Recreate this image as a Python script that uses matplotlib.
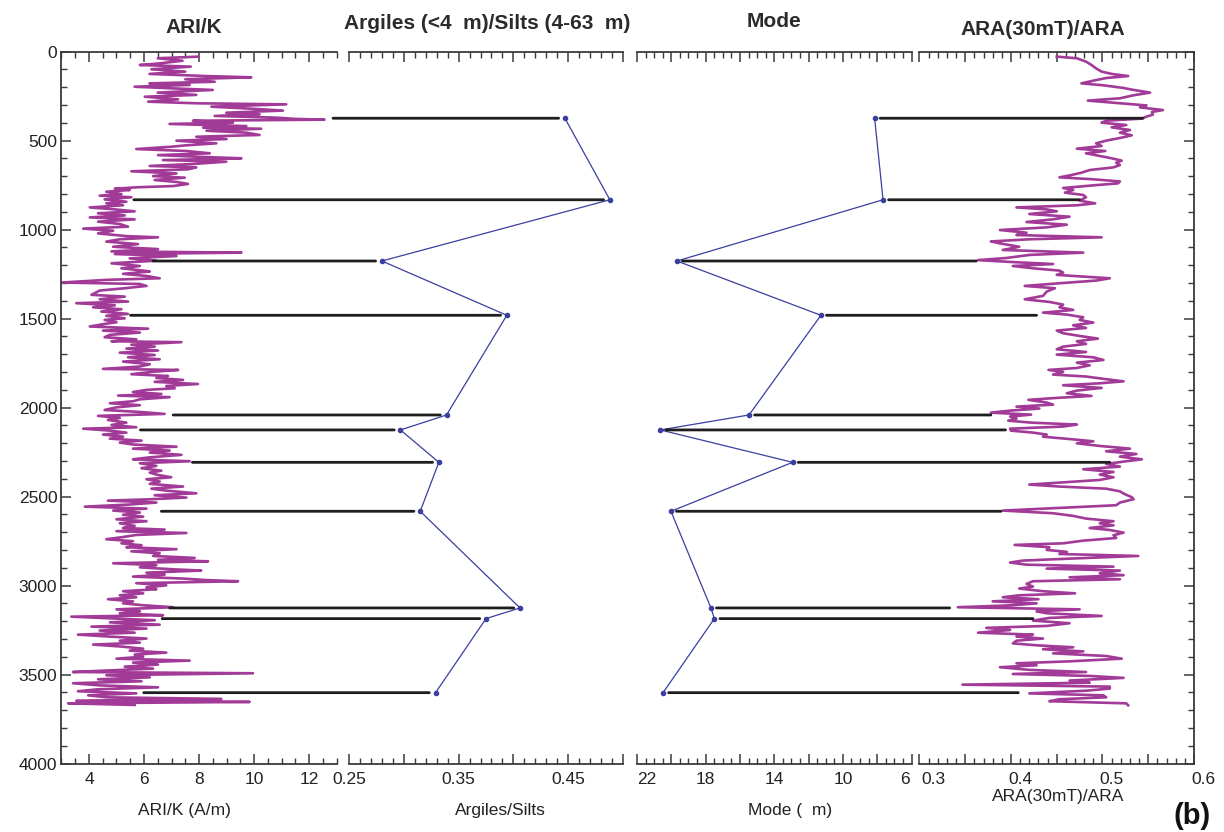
import numpy as np
import matplotlib
matplotlib.use('Agg')
from matplotlib import pyplot as plt
from matplotlib.patches import ConnectionPatch
from matplotlib.ticker import MultipleLocator
import matplotlib.transforms as mtransforms

plt.rcParams['font.family'] = ['Liberation Sans', 'DejaVu Sans']

# ARI/K profile (depth, A/m)
ari_depth = [28, 37, 51, 66, 75, 84, 99, 112, 125, 137, 144, 155, 169, 178, 187, 197, 206, 215, 230, 243,
             253, 268, 281, 290, 296, 309, 320, 331, 343, 352, 361, 371, 378, 382, 388, 399, 406, 418, 427, 433,
             444, 455, 468, 478, 491, 500, 515, 526, 534, 547, 558, 571, 581, 590, 599, 609, 618, 631, 642, 650,
             661, 672, 684, 699, 708, 721, 732, 743, 755, 762, 770, 777, 787, 800, 809, 818, 830, 843, 852, 863,
             875, 886, 897, 908, 920, 931, 942, 955, 968, 983, 994, 1006, 1021, 1036, 1043, 1054, 1067, 1081, 1096, 1109,
             1122, 1129, 1137, 1148, 1161, 1174, 1189, 1204, 1217, 1230,
             1235, 1248, 1260, 1273, 1282, 1297, 1305, 1316, 1329, 1342, 1366, 1376, 1391, 1404, 1413, 1425, 1436, 1447, 1460, 1473,
             1484, 1498, 1507, 1520, 1531, 1544, 1556, 1567, 1578, 1591, 1604, 1616, 1627, 1632, 1646, 1657, 1668, 1679, 1691, 1704,
             1717, 1728, 1741, 1756, 1769, 1782, 1788, 1799, 1812, 1822, 1833, 1844, 1855, 1867, 1878, 1891, 1900, 1912, 1923, 1932,
             1941, 1953, 1964, 1975, 1986, 1998, 2013, 2024, 2035, 2046, 2058, 2069, 2084, 2097, 2110, 2118, 2129, 2140, 2151, 2163,
             2174, 2185, 2196, 2207, 2219, 2230, 2241, 2252, 2265, 2279, 2290, 2301, 2312, 2327, 2340, 2354, 2365, 2378, 2391, 2402,
             2415, 2428, 2443, 2455, 2466, 2481, 2492, 2505, 2515,
             2522, 2533, 2544, 2556, 2567, 2578, 2589, 2602, 2612, 2627, 2638, 2649, 2664, 2676, 2685, 2694, 2704, 2715, 2728, 2739,
             2750, 2762, 2773, 2784, 2795, 2807, 2818, 2833, 2844, 2855, 2863, 2874, 2885, 2897, 2908, 2915, 2927, 2938, 2949, 2960,
             2968, 2975, 2986, 2998, 3009, 3020, 3031, 3043, 3054, 3065, 3076, 3088, 3099, 3110, 3121, 3133, 3144, 3155, 3166, 3174,
             3183, 3194, 3206, 3219, 3230, 3241, 3252, 3264, 3275, 3286, 3297, 3309, 3320, 3331, 3342, 3354, 3365, 3376, 3387, 3399,
             3410, 3421, 3432, 3443, 3455, 3466, 3477, 3485, 3492, 3503, 3515, 3526, 3537, 3548, 3560, 3571, 3582, 3593, 3605, 3616,
             3627, 3636, 3646, 3653, 3661, 3670]
ari_value = [7.96, 6.5, 7.4, 6.55, 5.85, 7.7, 6.27, 7.5, 6.2, 8.27, 9.9, 7.5, 8.57, 6.2, 7.66, 5.66, 7.0, 8.5, 6.5, 7.9,
             6.03, 7.24, 6.15, 7.9, 11.17, 8.45, 9.84, 11.05, 8.99, 10.2, 8.57, 10.87, 11.53, 12.56, 7.78, 9.23, 6.93, 9.72, 8.15, 10.26,
             8.27, 9.72, 10.2, 7.9, 9.0, 7.18, 8.63, 7.54, 7.0, 5.72, 7.54, 8.39, 6.51, 7.9, 9.54, 6.69, 8.99, 7.78, 6.21, 7.9,
             7.6, 5.54, 7.18, 6.33, 7.48, 6.39, 7.18, 7.6, 7.06, 5.72, 4.94, 5.48, 4.63, 5.18, 4.39, 5.54, 4.57, 5.36, 4.63, 5.24,
             4.03, 4.94, 5.66, 4.33, 5.3, 4.03, 5.66, 4.33, 5.12, 5.42, 3.79, 4.88, 4.33, 5.36, 6.51, 5.12, 4.63, 5.78, 4.88, 6.51,
             4.82, 9.54, 4.94, 7.18, 5.48, 6.45, 4.82, 5.85, 5.18, 5.97,
             6.21, 5.24, 6.09, 6.57, 4.63, 3.0, 5.85, 6.09, 5.3, 4.39, 4.09, 5.3, 4.39, 5.42, 3.54, 4.94, 4.15, 5.18, 4.45, 5.42,
             4.63, 5.3, 4.57, 5.0, 4.51, 4.03, 6.15, 4.51, 5.85, 4.76, 4.57, 5.72, 4.82, 7.36, 5.54, 6.39, 5.36, 6.51, 5.12, 6.39,
             5.42, 6.57, 5.24, 6.21, 5.85, 4.51, 7.24, 6.27, 5.54, 6.87, 6.45, 7.42, 6.39, 7.96, 6.81, 7.12, 6.09, 5.6, 6.63, 5.06,
             6.93, 5.85, 5.6, 4.76, 5.85, 5.0, 4.57, 5.85, 6.75, 4.33, 5.12, 4.69, 5.36, 4.82, 5.72, 3.79, 4.76, 5.36, 4.51, 5.24,
             4.76, 5.91, 5.12, 5.6, 7.18, 5.6, 6.93, 6.21, 7.36, 6.21, 5.6, 7.66, 5.85, 6.45, 5.91, 6.63, 6.21, 6.51, 6.99, 6.09,
             6.57, 6.21, 7.42, 6.27, 6.81, 7.9, 6.39, 7.54, 6.15,
             4.69, 6.45, 5.48, 3.85, 6.09, 4.88, 5.85, 5.24, 5.97, 5.0, 6.09, 5.12, 5.66, 5.24, 6.75, 5.0, 7.54, 5.72, 5.18, 4.63,
             5.6, 5.18, 5.91, 5.36, 7.18, 5.54, 6.57, 6.33, 7.84, 6.51, 8.33, 4.88, 6.45, 5.85, 7.06, 8.08, 6.09, 6.75, 5.6, 7.42,
             8.2, 9.42, 5.72, 6.81, 6.09, 6.45, 5.24, 5.97, 5.12, 5.72, 4.69, 5.6, 5.24, 5.97, 7.06, 5.0, 5.85, 5.12, 6.69, 3.36,
             4.69, 6.39, 4.76, 6.57, 4.09, 6.09, 4.39, 5.66, 3.6, 4.76, 6.09, 5.12, 5.85, 4.15, 5.18, 5.97, 5.48, 6.81, 5.66, 5.97,
             5.0, 7.66, 5.6, 6.51, 5.3, 6.33, 4.57, 3.42, 9.96, 4.63, 6.21, 4.33, 5.91, 3.42, 4.39, 6.51, 4.33, 3.6, 5.72, 3.97,
             4.63, 8.81, 3.54, 9.84, 3.24, 5.66]

# ARA(30mT)/ARA profile
ara_depth = [28, 37, 56, 75, 94, 112, 125, 137, 148, 163, 178, 189, 204, 215, 230, 245, 262, 275, 287, 302,
             313, 328, 339, 354, 365, 376, 388, 399, 412, 425, 440, 455, 470, 485, 500, 515, 530, 545, 558, 571,
             586, 599, 612, 624, 637, 650, 665, 680, 693, 706, 717, 729, 740, 751, 766, 777, 792, 805, 818, 837,
             852, 863, 875, 886, 897, 912, 927, 942, 957, 972, 987, 1002, 1017, 1030, 1043, 1054, 1066, 1077, 1096, 1114,
             1129, 1142, 1159, 1171, 1182, 1193, 1204, 1217, 1230,
             1241, 1254, 1273, 1286, 1301, 1316, 1329, 1348, 1372, 1391, 1406, 1421, 1436, 1451, 1466, 1477, 1492, 1507, 1522, 1537,
             1552, 1567, 1582, 1597, 1612, 1627, 1642, 1657, 1672, 1687, 1702, 1717, 1732, 1747, 1762, 1777, 1788, 1799, 1814, 1825,
             1840, 1852, 1863, 1874, 1889, 1904, 1919, 1934, 1945, 1956, 1971, 1983, 1994, 2005, 2016, 2028, 2039, 2050, 2061, 2073,
             2084, 2095, 2106, 2118, 2129, 2140, 2151, 2163, 2178, 2189, 2200, 2215, 2230, 2245, 2260, 2275, 2290, 2301, 2316, 2331,
             2346, 2361, 2376, 2391, 2406, 2421, 2432, 2443, 2455, 2470, 2485, 2503,
             2514, 2533, 2548, 2565, 2578, 2593, 2608, 2623, 2638, 2649, 2661, 2676, 2687, 2702, 2717, 2732, 2747, 2762, 2771, 2784,
             2799, 2810, 2822, 2833, 2848, 2859, 2870, 2882, 2893, 2904, 2915, 2930, 2941, 2953, 2964, 2975, 2990, 3005, 3016, 3031,
             3043, 3054, 3065, 3076, 3088, 3099, 3110, 3121, 3133, 3144, 3155, 3170, 3181, 3196, 3211, 3226, 3237, 3249, 3264, 3275,
             3286, 3297, 3309, 3324, 3335, 3346, 3357, 3369, 3380, 3395, 3410, 3425, 3436, 3447, 3458, 3473, 3485, 3496, 3507, 3518,
             3533, 3545, 3556, 3567, 3578, 3590, 3605, 3616, 3627, 3638, 3649, 3661, 3672]
ara_value = [0.450, 0.472, 0.482, 0.488, 0.493, 0.499, 0.510, 0.528, 0.504, 0.490, 0.477, 0.501, 0.523, 0.534, 0.552, 0.534, 0.519, 0.484, 0.512, 0.548,
             0.541, 0.566, 0.554, 0.555, 0.548, 0.543, 0.504, 0.499, 0.526, 0.510, 0.530, 0.519, 0.532, 0.519, 0.504, 0.493, 0.499, 0.472, 0.503, 0.482,
             0.497, 0.510, 0.521, 0.515, 0.519, 0.512, 0.486, 0.477, 0.466, 0.453, 0.490, 0.519, 0.517, 0.490, 0.457, 0.468, 0.459, 0.479, 0.482, 0.475,
             0.492, 0.472, 0.406, 0.439, 0.450, 0.420, 0.464, 0.446, 0.417, 0.461, 0.439, 0.388, 0.417, 0.406, 0.499, 0.420, 0.378, 0.388, 0.409, 0.391,
             0.479, 0.420, 0.395, 0.364, 0.402, 0.446, 0.402, 0.424, 0.453,
             0.457, 0.450, 0.508, 0.493, 0.453, 0.415, 0.448, 0.439, 0.435, 0.415, 0.442, 0.457, 0.453, 0.468, 0.435, 0.461, 0.479, 0.475, 0.490, 0.468,
             0.482, 0.450, 0.457, 0.475, 0.495, 0.472, 0.482, 0.457, 0.450, 0.482, 0.450, 0.490, 0.501, 0.472, 0.486, 0.472, 0.441, 0.457, 0.446, 0.482,
             0.504, 0.523, 0.497, 0.457, 0.499, 0.472, 0.461, 0.488, 0.450, 0.419, 0.439, 0.446, 0.406, 0.431, 0.400, 0.378, 0.422, 0.399, 0.406, 0.397,
             0.422, 0.472, 0.457, 0.399, 0.400, 0.424, 0.439, 0.435, 0.468, 0.490, 0.472, 0.497, 0.530, 0.504, 0.537, 0.519, 0.543, 0.526, 0.504, 0.519,
             0.479, 0.512, 0.497, 0.512, 0.497, 0.453, 0.420, 0.453, 0.504, 0.519, 0.524, 0.532,
             0.534, 0.519, 0.515, 0.446, 0.391, 0.446, 0.468, 0.482, 0.512, 0.497, 0.512, 0.486, 0.508, 0.523, 0.512, 0.515, 0.479, 0.457, 0.404, 0.442,
             0.439, 0.461, 0.453, 0.539, 0.464, 0.413, 0.399, 0.417, 0.512, 0.439, 0.519, 0.497, 0.523, 0.464, 0.519, 0.424, 0.417, 0.424, 0.409, 0.435,
             0.470, 0.409, 0.391, 0.430, 0.380, 0.428, 0.402, 0.342, 0.475, 0.428, 0.439, 0.499, 0.442, 0.424, 0.464, 0.439, 0.373, 0.399, 0.364, 0.424,
             0.406, 0.435, 0.406, 0.402, 0.428, 0.468, 0.435, 0.479, 0.446, 0.504, 0.521, 0.464, 0.406, 0.428, 0.388, 0.420, 0.482, 0.402, 0.486, 0.523,
             0.464, 0.486, 0.347, 0.508, 0.508, 0.482, 0.420, 0.501, 0.504, 0.453, 0.442, 0.526, 0.528]

# discrete samples (grain size)
sample_depth = [374, 832, 1176, 1481, 2041, 2125, 2307, 2582, 3125, 3185, 3601]
argile_ratio = [0.447, 0.488, 0.280, 0.394, 0.339, 0.297, 0.332, 0.315, 0.406, 0.375, 0.329]
mode_um = [8.15, 7.66, 19.67, 11.28, 15.47, 20.64, 12.93, 20.02, 17.69, 17.49, 20.48]
# where the tie lines meet the magnetic curves
link_ari_start = [12.87, 5.63, 6.33, 5.51, 7.06, 5.87, 7.76, 6.63, 6.93, 6.66, 5.99]
link_ara_end = [0.544, 0.475, 0.362, 0.428, 0.378, 0.394, 0.508, 0.389, 0.333, 0.424, 0.408]

ari_ticks = [4, 6, 8, 10, 12]
argile_ticks = [0.25, 0.30, 0.35, 0.40, 0.45, 0.50]
argile_ticklabels = ['0.25', '', '0.35', '', '0.45', '']
mode_ticks = [6, 8, 10, 12, 14, 16, 18, 20, 22]
mode_ticklabels = ['6', '', '10', '', '14', '', '18', '', '22']
ara_ticks = [0.30, 0.35, 0.40, 0.45, 0.50, 0.55, 0.60]
ara_ticklabels = ['0.3', '', '0.4', '', '0.5', '', '0.6']

purple = '#a23a97'
navy = '#3a3fa0'
dark = '#2b2b2b'

fig = plt.figure(figsize=(12.24, 8.32), dpi=100)
bottom, height = 0.0821, 0.8558
boxes = [[0.0502, bottom, 0.2248, height],
         [0.2851, bottom, 0.2239, height],
         [0.5204, bottom, 0.2243, height],
         [0.7512, bottom, 0.2243, height]]
axes = [fig.add_axes(b) for b in boxes]
ax1, ax2, ax3, ax4 = axes

for i, ax in enumerate(axes):
    ax.patch.set_alpha(0)
    ax.set_ylim(4000, 0)
    ax.spines['left'].set_visible(i == 0)
    ax.spines['right'].set_visible(i == 3)
    for s in ax.spines.values():
        s.set_linewidth(1.3)
        s.set_color('#3a3a3a')
    ax.yaxis.set_major_locator(MultipleLocator(500))
    ax.yaxis.set_minor_locator(MultipleLocator(100))
    ax.tick_params(which='both', direction='in', top=True, bottom=True,
                   left=(i == 0), right=(i == 3), labelleft=(i == 0),
                   labelsize=12.5, labelcolor='#222222', color='#3a3a3a')
    ax.tick_params(which='major', length=7, width=1.1)
    ax.tick_params(which='minor', length=4, width=1.0)
    ax.tick_params(axis='x', pad=6)
    ax.tick_params(axis='y', pad=3)

ax1.set_xlim(3, 13)
ax1.set_xticks(ari_ticks)
ax1.xaxis.set_minor_locator(MultipleLocator(0.5))
ax2.set_xlim(0.25, 0.50)
ax2.set_xticks(argile_ticks, labels=argile_ticklabels)
ax2.xaxis.set_minor_locator(MultipleLocator(0.01))
ax3.set_xlim(22, 6)
ax3.set_xticks(mode_ticks, labels=mode_ticklabels)
ax3.xaxis.set_minor_locator(MultipleLocator(0.5))
ax4.set_xlim(0.3, 0.6)
ax4.set_xticks(ara_ticks, labels=ara_ticklabels)
ax4.xaxis.set_minor_locator(MultipleLocator(0.01))

# curves
ax1.plot(ari_value, ari_depth, color=purple, lw=1.9)
ax4.plot(ara_value, ara_depth, color=purple, lw=1.9)
ax2.plot(argile_ratio, sample_depth, color=navy, lw=0.9, marker='o', ms=3)
ax3.plot(mode_um, sample_depth, color=navy, lw=0.9, marker='o', ms=3)

# tie lines between panels
for d, a0, r, m, a1 in zip(sample_depth, link_ari_start, argile_ratio, mode_um, link_ara_end):
    con = ConnectionPatch(xyA=(a0, d), coordsA=ax1.transData, xyB=(r, d), coordsB=ax2.transData,
                          color='#1e1e1e', lw=2.0, shrinkB=4.5)
    fig.add_artist(con)
    con = ConnectionPatch(xyA=(m, d), coordsA=ax3.transData, xyB=(a1, d), coordsB=ax4.transData,
                          color='#1e1e1e', lw=2.0, shrinkA=4)
    fig.add_artist(con)

# nudge some tick labels like the original
def shift(tick, dx):
    off = mtransforms.ScaledTranslation(dx / 72.0, 0, fig.dpi_scale_trans)
    tick.label1.set_transform(tick.label1.get_transform() + off)

mticks = ax3.xaxis.get_major_ticks()
shift(mticks[0], -4.5)
shift(mticks[-1], 7)
aticks = ax4.xaxis.get_major_ticks()
for k, t in enumerate(aticks):
    shift(t, 10 if k == 0 else 6.5)

# titles
fig.text(0.1585, 0.967, 'ARI/K', ha='center', va='center', fontsize=15, fontweight='bold', color=dark)
fig.text(0.398, 0.972, 'Argiles (<4  m)/Silts (4-63  m)', ha='center', va='center', fontsize=15,
         fontweight='bold', color=dark)
fig.text(0.632, 0.974, 'Mode', ha='center', va='center', fontsize=15, fontweight='bold', color=dark)
fig.text(0.852, 0.964, 'ARA(30mT)/ARA', ha='center', va='center', fontsize=15, fontweight='bold', color=dark)

# axis labels
fig.text(0.1503, 0.0264, 'ARI/K (A/m)', ha='center', va='center', fontsize=12.5, color='#222222')
fig.text(0.4085, 0.0264, 'Argiles/Silts', ha='center', va='center', fontsize=12.5, color='#222222')
fig.text(0.6454, 0.0264, 'Mode (  m)', ha='center', va='center', fontsize=12.5, color='#222222')
fig.text(0.8644, 0.0421, 'ARA(30mT)/ARA', ha='center', va='center', fontsize=12.5, color='#222222')
fig.text(0.974, 0.003, '(b)', ha='center', va='bottom', fontsize=21, fontweight='bold', color='#111111')

fig.savefig('out.png', dpi=100)
plt.close(fig)
